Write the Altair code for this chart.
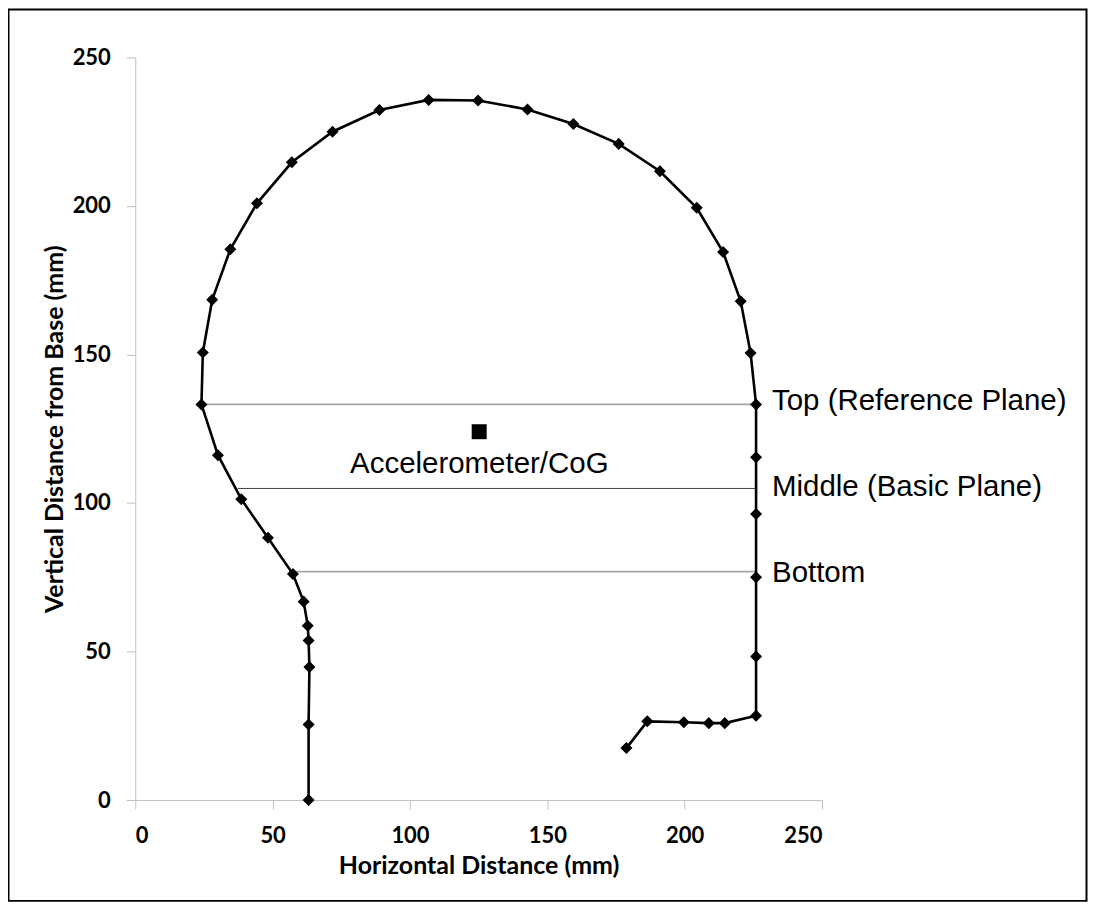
import altair as alt
import pandas as pd

# Head outline (mm)
head_x = [63.1, 63.1, 63.4, 63.1, 62.8, 61.3, 57.4, 48.3, 38.6, 30.1, 24.1, 24.6, 28.0,
          34.6, 44.3, 57.0, 71.8, 88.9, 106.8, 124.8, 142.8, 159.5, 176.0, 191.0, 204.4,
          214.0, 220.4, 224.0, 226.0, 226.0, 226.0, 226.0, 226.0, 226.0, 214.6, 208.8,
          199.7, 186.4, 178.8]
head_y = [0.0, 25.4, 44.8, 53.7, 58.7, 66.8, 76.1, 88.3, 101.3, 116.1, 133.2, 150.7, 168.4,
          185.4, 200.9, 214.7, 225.0, 232.3, 235.7, 235.5, 232.5, 227.6, 220.9, 211.7, 199.4,
          184.5, 167.9, 150.5, 133.2, 115.4, 96.3, 75.0, 48.3, 28.4, 25.9, 25.9,
          26.2, 26.5, 17.5]

# Planes
plane_names = ["Top (Reference Plane)", "Middle (Basic Plane)", "Bottom"]
plane_y = [133.2, 104.9, 76.9]
plane_x_start = [24.1, 37.3, 58.6]
plane_x_end = [226.0, 226.0, 226.0]
plane_label_x = [231.8, 231.8, 231.8]
plane_label_y = [131.3, 102.4, 73.5]
plane_colors = ["#a6a6a6", "#404040", "#a6a6a6"]
plane_widths = [1.6, 1.0, 1.6]

# Accelerometer / centre of gravity
cog_x = [125.2]
cog_y = [124.0]
cog_label = ["Accelerometer/CoG"]
cog_label_x = [78.2]
cog_label_y = [110.0]

ticks = [0, 50, 100, 150, 200, 250]

head = pd.DataFrame({"x": head_x, "y": head_y, "i": list(range(len(head_x)))})
planes = pd.DataFrame({"name": plane_names, "y": plane_y, "x0": plane_x_start,
                       "x1": plane_x_end, "lx": plane_label_x, "ly": plane_label_y,
                       "col": plane_colors, "w": plane_widths})
cog = pd.DataFrame({"x": cog_x, "y": cog_y, "label": cog_label,
                    "lx": cog_label_x, "ly": cog_label_y})

W, H = 688, 744
xs = alt.Scale(domain=[0, 250], nice=False)
ys = alt.Scale(domain=[0, 250], nice=False)

axis_common = dict(values=ticks, grid=False, domainColor="#bfbfbf", tickColor="#bfbfbf",
                   tickSize=9, labelFont="Lato", labelFontWeight="bold", labelFontSize=22,
                   labelColor="black", titleFont="Lato", titleFontWeight="bold",
                   titleFontSize=25, titleColor="black")

xaxis = alt.Axis(title="Horizontal Distance (mm)", labelPadding=17, titleY=66,
                 titleBaseline="middle", **axis_common)
yaxis = alt.Axis(title="Vertical Distance from Base (mm)", labelPadding=16, titleX=-81,
                 titleBaseline="middle", **axis_common)

plane_rules = alt.Chart(planes).mark_rule().encode(
    x=alt.X("x0:Q", scale=xs, axis=xaxis),
    x2="x1:Q",
    y=alt.Y("y:Q", scale=ys, axis=yaxis),
    color=alt.Color("col:N", scale=None),
    strokeWidth=alt.StrokeWidth("w:Q", scale=None),
)

plane_text = alt.Chart(planes).mark_text(
    align="left", baseline="alphabetic", font="Liberation Sans", fontSize=29.5, color="black"
).encode(x=alt.X("lx:Q", scale=xs), y=alt.Y("ly:Q", scale=ys), text="name:N")

line = alt.Chart(head).mark_line(color="black", strokeWidth=2.6).encode(
    x=alt.X("x:Q", scale=xs), y=alt.Y("y:Q", scale=ys), order="i:Q")

pts = alt.Chart(head).mark_point(shape="diamond", filled=True, size=145, color="black",
                                 opacity=1).encode(
    x=alt.X("x:Q", scale=xs), y=alt.Y("y:Q", scale=ys))

cog_pt = alt.Chart(cog).mark_point(shape="square", filled=True, size=225, color="black",
                                   opacity=1).encode(
    x=alt.X("x:Q", scale=xs), y=alt.Y("y:Q", scale=ys))

cog_text = alt.Chart(cog).mark_text(
    align="left", baseline="alphabetic", font="Liberation Sans", fontSize=29.5, color="black"
).encode(x=alt.X("lx:Q", scale=xs), y=alt.Y("ly:Q", scale=ys), text="label:N")

frame = alt.Chart(pd.DataFrame({"a": [0]})).mark_rect(
    fill=None, stroke="black", strokeWidth=2).encode(
    x=alt.value(-127), x2=alt.value(953), y=alt.value(-48), y2=alt.value(845))

chart = alt.layer(plane_rules, plane_text, line, pts, cog_pt, cog_text, frame).properties(
    width=W, height=H,
    autosize=alt.AutoSizeParams(type="none"),
    padding={"left": 127.5, "top": 48.7, "right": 266.5, "bottom": 103.3},
    background="white",
).configure_view(stroke=None)

chart.save("out.html", embed_options={"renderer": "svg", "actions": False})
